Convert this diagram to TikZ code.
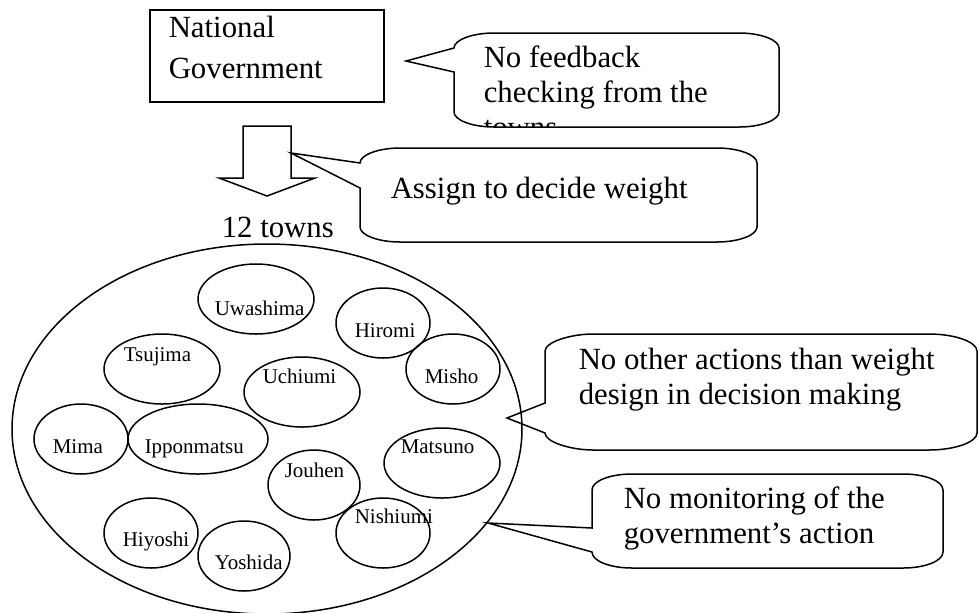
\documentclass[tikz,border=0pt]{standalone}
\usepackage{fontspec}
\setmainfont{Liberation Serif}
\usetikzlibrary{shapes.geometric}

\begin{document}
\begin{tikzpicture}[x=0.5pt, y=-0.5pt, line width=0.75pt,
  town/.style={draw, ellipse, inner sep=0pt},
  townname/.style={anchor=base west, inner sep=0pt, font=\fontsize{10.5}{12}\selectfont},
  bigtext/.style={anchor=base west, inner sep=0pt, align=left, font=\fontsize{15.4}{17.5}\selectfont}]
\useasboundingbox (0,0) rectangle (979,612);

% national government (text placed at its last baseline)
\node[draw, minimum width=117pt, minimum height=46pt, inner sep=0pt] (natgov) at (267,56) {};
\node[bigtext, font=\fontsize{15.4}{20.5}\selectfont] (natgovtext) at (168,78) {National\\Government};

% block arrow down to the towns
\draw (243,126) -- (291,126) -- (291,178) -- (315,178) -- (267,196) -- (219,178) -- (243,178) -- cycle;
\coordinate (shaft) at (291,153);
\node[bigtext] (twelve) at (221,237) {12 towns};

% the towns
\node[town, minimum width=255pt, minimum height=185pt] (towns) at (267,429) {};
\node[town, minimum width=58pt, minimum height=35pt] (uwashima) at (256,299) {};
\node[townname] (uwashimatext) at (214,315) {Uwashima};
\node[town, minimum width=47pt, minimum height=35pt] (hiromi) at (383,323) {};
\node[townname] (hiromitext) at (354,337) {Hiromi};
\node[town, minimum width=58pt, minimum height=35pt] (tsujima) at (162,369) {};
\node[townname] (tsujimatext) at (123,361) {Tsujima};
\node[town, minimum width=58pt, minimum height=35pt] (uchiumi) at (302,392) {};
\node[townname] (uchiumitext) at (262,383) {Uchiumi};
\node[town, minimum width=47pt, minimum height=35pt] (misho) at (453,369) {};
\node[townname] (mishotext) at (424,383) {Misho};
\node[town, minimum width=47pt, minimum height=35pt] (mima) at (81,439) {};
\node[townname] (mimatext) at (52,453) {Mima};
\node[town, minimum width=70pt, minimum height=35pt] (ipponmatsu) at (198,439) {};
\node[townname] (ipponmatsutext) at (144,453) {Ipponmatsu};
\node[town, minimum width=58pt, minimum height=35pt] (matsuno) at (442,463) {};
\node[townname] (matsunotext) at (400,453) {Matsuno};
\node[town, minimum width=46pt, minimum height=35pt] (jouhen) at (314,485) {};
\node[townname] (jouhentext) at (284,477) {Jouhen};
\node[town, minimum width=47pt, minimum height=35pt] (nishiumi) at (383,533) {};
\node[townname] (nishiumitext) at (354,523) {Nishiumi};
\node[town, minimum width=47pt, minimum height=35pt] (hiyoshi) at (151,533) {};
\node[townname] (hiyoshitext) at (122,546) {Hiyoshi};
\node[town, minimum width=46pt, minimum height=35pt] (yoshida) at (244,556) {};
\node[townname] (yoshidatext) at (214,569) {Yoshida};

% callout tips
\coordinate (tipfeedback) at (406,61);
\coordinate (tipother) at (507,418);
\coordinate (tipmonitor) at (488,523);

% callout: no feedback
\draw (tipfeedback) -- (454,48) .. controls (454,40) and (472,33) .. (494,33) -- (739,33)
  .. controls (761,33) and (779,40) .. (779,48) -- (779,112) .. controls (779,120) and (761,127) .. (739,127)
  -- (494,127) .. controls (472,127) and (454,120) .. (454,112) -- (454,72) -- cycle;
\begin{scope}
\clip (454,33) rectangle (779,126);
\node[bigtext] (feedback) at (483,137) {No feedback\\checking from the\\towns};
\end{scope}

% callout: assign
\draw (shaft) -- (360,163) .. controls (360,155) and (378,148) .. (400,148) -- (717,148)
  .. controls (739,148) and (757,155) .. (757,163) -- (757,227) .. controls (757,235) and (739,242) .. (717,242)
  -- (400,242) .. controls (378,242) and (360,235) .. (360,227) -- (360,188) -- cycle;
\node[bigtext] (assign) at (390,198) {Assign to decide weight};

% callout: no other actions
\draw (tipother) -- (545,403) -- (545,351) .. controls (545,342) and (571,334) .. (593,334) -- (929,334)
  .. controls (955,334) and (977,342) .. (977,351) -- (977,433) .. controls (977,442) and (955,450) .. (929,450)
  -- (593,450) .. controls (571,450) and (545,442) .. (545,433) -- cycle;
\node[bigtext] (other) at (578,404) {No other actions than weight\\design in decision making};

% callout: no monitoring
\draw (tipmonitor) -- (592,528) -- (592,490) .. controls (592,481) and (610,474) .. (632,474) -- (903,474)
  .. controls (925,474) and (943,481) .. (943,490) -- (943,552) .. controls (943,561) and (925,568) .. (903,568)
  -- (632,568) .. controls (610,568) and (592,561) .. (592,552) -- cycle;
\node[bigtext] (monitor) at (623,543) {No monitoring of the\\government's action};
\end{tikzpicture}
\end{document}
